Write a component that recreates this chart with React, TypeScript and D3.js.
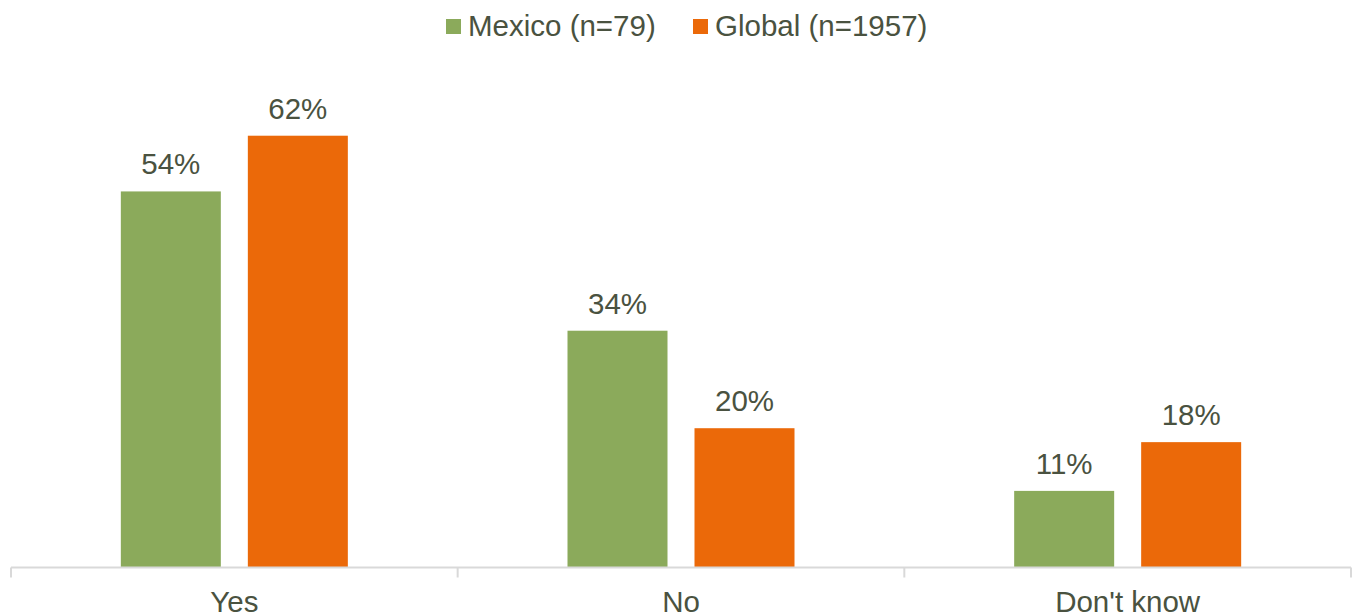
import React from "react";
import * as d3 from "d3";

const categories = ["Yes", "No", "Don't know"];
const seriesNames = ["Mexico (n=79)", "Global (n=1957)"];
const mexicoValues = [54, 34, 11];
const globalValues = [62, 20, 18];
const seriesColors = ["#8BAA5B", "#EB6909"];

const W = 1353;
const H = 616;
const textColor = "#4A5240";
const font = "'Liberation Sans', Arial, sans-serif";
const fontSize = 29.5;

export default function App() {
  const x0 = d3.scaleBand<string>().domain(categories).range([11, 1351]).padding(0);
  const groupWidth = 227;
  const x1 = d3
    .scaleBand<string>()
    .domain(seriesNames)
    .range([0, groupWidth])
    .paddingInner(0.2126)
    .paddingOuter(0);
  const y = d3.scaleLinear().domain([0, 70]).range([567.5, 80]);

  const seriesValues = [mexicoValues, globalValues];
  const baseY = y(0);
  const ticks = [...categories.map((c) => x0(c) as number), 1351];

  return (
    <svg
      width={W}
      height={H}
      style={{ position: "absolute", left: 0, top: 0, display: "block" }}
      fontFamily={font}
    >
      <rect width={W} height={H} fill="#ffffff" />
      {/* legend */}
      {seriesNames.map((name, i) => {
        const lx = i === 0 ? 446 : 693;
        return (
          <g key={name}>
            <rect x={lx} y={19} width={15} height={15} fill={seriesColors[i]} />
            <text x={lx + 22} y={36} fontSize={fontSize} fill={textColor}>
              {name}
            </text>
          </g>
        );
      })}
      {/* bars and value labels */}
      {categories.map((cat, ci) => {
        const gx = (x0(cat) as number) + (x0.bandwidth() - groupWidth) / 2;
        return (
          <g key={cat} transform={`translate(${gx},0)`}>
            {seriesNames.map((s, si) => {
              const v = seriesValues[si][ci];
              const bx = x1(s) as number;
              const top = y(v);
              return (
                <g key={s}>
                  <rect
                    x={bx}
                    y={top}
                    width={x1.bandwidth()}
                    height={baseY - top}
                    fill={seriesColors[si]}
                  />
                  <text
                    x={bx + x1.bandwidth() / 2}
                    y={top - 17}
                    textAnchor="middle"
                    fontSize={fontSize}
                    fill={textColor}
                  >
                    {`${v}%`}
                  </text>
                </g>
              );
            })}
          </g>
        );
      })}
      {/* category axis */}
      <line x1={11} x2={1351} y1={baseY} y2={baseY} stroke="#D9D9D9" strokeWidth={2} />
      {ticks.map((t, i) => (
        <line key={i} x1={t} x2={t} y1={baseY} y2={baseY + 10} stroke="#D9D9D9" strokeWidth={2} />
      ))}
      {categories.map((cat) => (
        <text
          key={cat}
          x={(x0(cat) as number) + x0.bandwidth() / 2}
          y={612}
          textAnchor="middle"
          fontSize={fontSize}
          fill={textColor}
        >
          {cat}
        </text>
      ))}
    </svg>
  );
}
